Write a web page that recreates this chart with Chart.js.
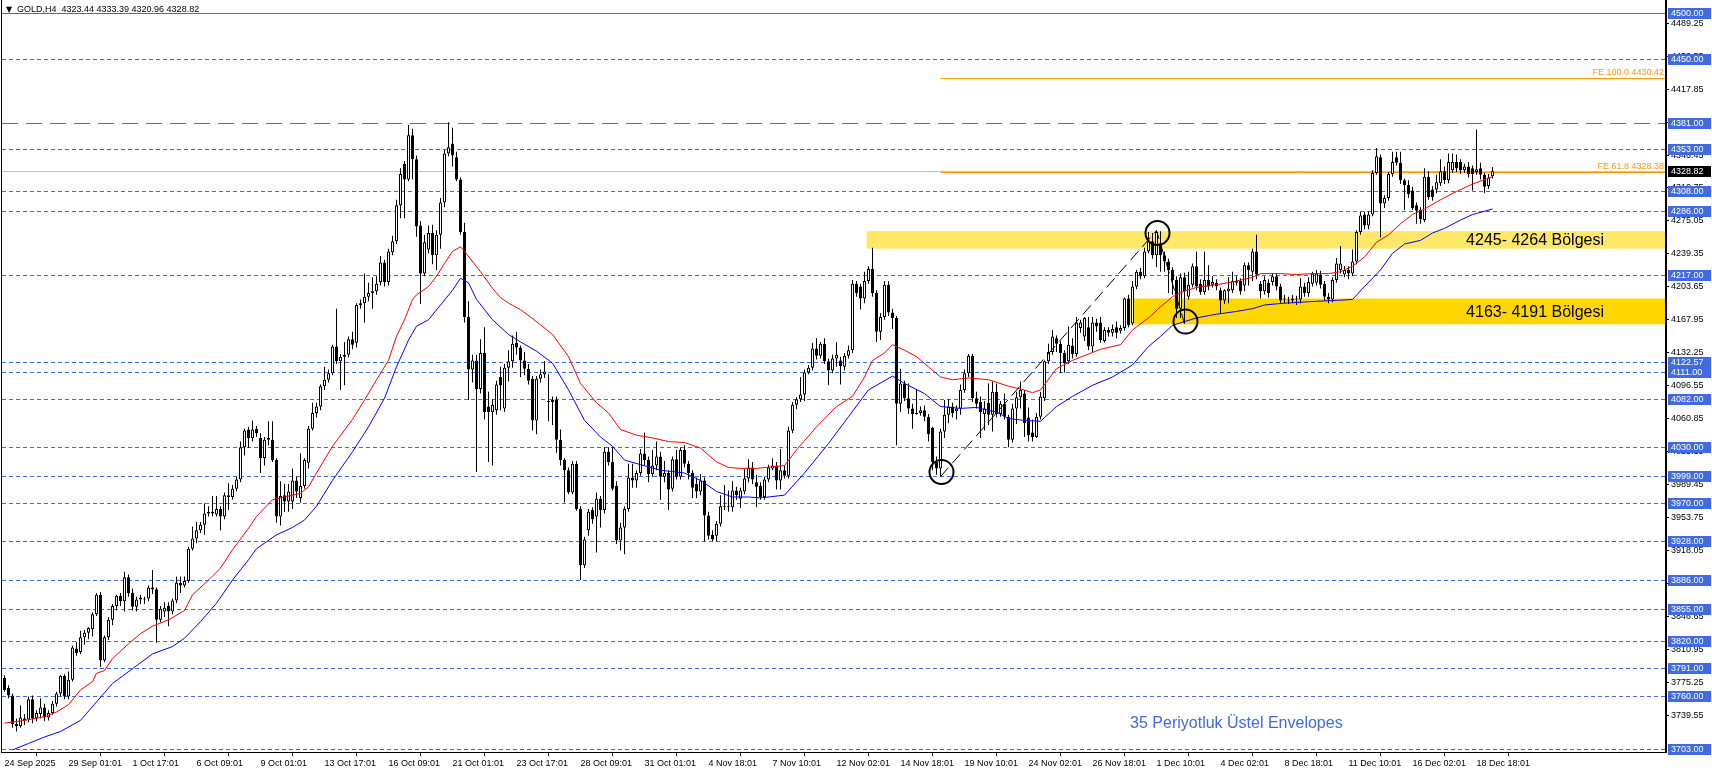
<!DOCTYPE html>
<html>
<head>
<meta charset="utf-8">
<title>GOLD,H4</title>
<script src="https://cdn.jsdelivr.net/npm/chart.js@4.4.1/dist/chart.umd.min.js"></script>
<style>
  html, body { margin: 0; padding: 0; background: #fff; }
  #wrap { width: 1712px; height: 773px; }
</style>
</head>
<body>
<div id="wrap"><canvas id="goldChart" width="1712" height="773"></canvas></div>
<script>
// 1. Данные графика (GOLD, H4)
const title = 'GOLD,H4  4323.44 4333.39 4320.96 4328.82';
const lastPrice = 4328.82;

// метки времени: одна подпись на каждые 16 свечей
const dateTicks = ['24 Sep 2025', '29 Sep 01:01', '1 Oct 17:01', '6 Oct 09:01', '9 Oct 01:01', '13 Oct 17:01',
  '16 Oct 09:01', '21 Oct 01:01', '23 Oct 17:01', '28 Oct 09:01', '31 Oct 01:01', '4 Nov 18:01', '7 Nov 10:01',
  '12 Nov 02:01', '14 Nov 18:01', '19 Nov 10:01', '24 Nov 02:01', '26 Nov 18:01', '1 Dec 10:01', '4 Dec 02:01',
  '8 Dec 18:01', '11 Dec 10:01', '16 Dec 02:01', '18 Dec 18:01'];
const barsPerLabel = 16;

const yTicks = [4489.25, 4453.55, 4417.85, 4382.15, 4346.45, 4310.75, 4275.05, 4239.35, 4203.65, 4167.95, 4132.25,
  4096.55, 4060.85, 4025.15, 3989.45, 3953.75, 3918.05, 3882.35, 3846.65, 3810.95, 3775.25, 3739.55];

// свечи: [open, high, low, close]
const ohlc = [
  [3780,3783,3765,3767],[3769,3772,3758,3761],[3761,3763,3726,3730],[3730,3736,3722,3728],[3728,3750,3726,3737],
  [3736,3741,3729,3734],[3735,3760,3732,3757],[3757,3761,3731,3736],[3736,3745,3733,3742],[3741,3758,3736,3748],
  [3748,3752,3733,3737],[3737,3745,3734,3742],[3742,3755,3740,3752],[3752,3765,3749,3763],[3763,3783,3760,3782],
  [3782,3784,3757,3760],[3760,3787,3757,3778],[3778,3815,3776,3813],[3812,3819,3804,3807],[3808,3831,3806,3824],
  [3824,3832,3816,3829],[3829,3835,3822,3834],[3833,3851,3825,3849],[3849,3872,3847,3870],[3870,3873,3792,3799],
  [3799,3826,3797,3824],[3824,3846,3821,3843],[3843,3860,3837,3858],[3858,3870,3853,3869],[3869,3872,3858,3863],
  [3863,3895,3852,3889],[3889,3892,3868,3872],[3872,3877,3853,3857],[3857,3868,3852,3865],[3867,3870,3860,3865],
  [3865,3868,3860,3866],[3866,3880,3863,3878],[3878,3897,3871,3876],[3876,3878,3818,3843],[3843,3858,3840,3855],
  [3852,3862,3846,3856],[3858,3862,3836,3852],[3852,3866,3849,3864],[3864,3890,3861,3883],[3883,3890,3872,3880],
  [3880,3890,3878,3885],[3885,3922,3883,3920],[3920,3944,3918,3931],[3931,3949,3926,3940],[3940,3949,3937,3946],
  [3946,3969,3935,3958],[3958,3966,3955,3960],[3960,3977,3955,3958],[3957,3977,3955,3963],[3963,3966,3940,3955],
  [3955,3981,3952,3978],[3978,3991,3962,3976],[3976,3989,3973,3985],[3985,3998,3982,3995],[3995,4036,3992,4030],
  [4030,4050,4021,4048],[4049,4052,4029,4040],[4040,4059,4036,4049],[4050,4053,4041,4045],[4040,4045,4002,4018],
  [4018,4041,4010,4038],[4038,4058,4032,4040],[4038,4058,4014,4016],[4016,4018,3948,3955],[3955,3993,3945,3977],
  [3978,3990,3960,3971],[3971,3990,3960,3982],[3971,4007,3963,3994],[3994,3998,3975,3982],[3975,4023,3970,3988],
  [3988,4018,3985,4016],[4013,4053,4007,4050],[4050,4078,4048,4067],[4067,4078,4062,4074],[4074,4098,4070,4096],
  [4096,4117,4092,4103],[4103,4114,4100,4110],[4110,4141,4108,4139],[4139,4180,4120,4123],[4123,4131,4092,4128],
  [4128,4144,4097,4130],[4130,4150,4127,4147],[4147,4155,4136,4141],[4143,4186,4138,4184],[4184,4190,4180,4186],
  [4186,4218,4165,4193],[4193,4208,4188,4197],[4197,4214,4180,4199],[4199,4215,4195,4207],[4209,4237,4205,4230],
  [4230,4233,4204,4209],[4209,4245,4205,4242],[4241,4259,4238,4253],[4253,4298,4250,4292],[4292,4332,4278,4326],
  [4337,4340,4278,4320],[4320,4379,4318,4368],[4368,4375,4320,4342],[4342,4346,4258,4269],[4270,4275,4185,4218],
  [4218,4260,4215,4252],[4244,4270,4240,4262],[4262,4271,4228,4238],[4238,4265,4222,4260],[4260,4300,4245,4295],
  [4295,4352,4290,4348],[4348,4382,4345,4355],[4359,4376,4334,4346],[4344,4350,4318,4320],[4320,4322,4260,4263],
  [4263,4273,4165,4171],[4171,4188,4081,4114],[4114,4130,4100,4124],[4124,4130,4003,4093],[4093,4147,4088,4132],
  [4132,4160,4060,4068],[4074,4090,4014,4068],[4068,4082,4010,4076],[4070,4102,4065,4098],[4106,4117,4070,4097],
  [4072,4120,4068,4116],[4116,4135,4101,4123],[4123,4151,4116,4142],[4143,4155,4130,4138],[4138,4140,4106,4124],
  [4124,4133,4108,4115],[4115,4120,4098,4102],[4104,4107,4048,4059],[4059,4107,4044,4104],[4104,4114,4100,4109],
  [4109,4123,4105,4112],[4080,4109,4058,4079],[4079,4085,4054,4081],[4081,4085,4024,4038],[4038,4049,4010,4016],
  [4016,4018,3970,4005],[4005,4008,3979,3981],[3981,4015,3979,4012],[4012,4015,3961,3963],[3963,3966,3886,3902],
  [3902,3933,3899,3930],[3940,3963,3934,3960],[3962,3965,3947,3952],[3955,3981,3916,3974],[3974,3977,3943,3962],
  [3962,4030,3958,4025],[4025,4030,4010,4014],[4014,4030,3983,3985],[3988,3993,3925,3929],[3929,3948,3918,3943],
  [3943,3966,3914,3963],[3963,4012,3960,3997],[3997,4012,3986,3994],[3994,4005,3986,4002],[4002,4028,3999,4023],
  [4023,4046,4010,4016],[4016,4020,3992,4001],[4001,4027,3998,4010],[4010,4036,4005,4020],[4020,4025,3973,3998],
  [3998,4015,3992,4002],[4002,4005,3962,3984],[3985,4020,3982,4017],[4017,4027,3995,3998],[3998,4030,3995,4027],
  [4027,4032,4008,4012],[4012,4015,3995,4002],[4002,4005,3975,3986],[3990,3997,3975,3982],[3982,4001,3978,3994],
  [3994,3997,3928,3956],[3956,3960,3930,3934],[3935,3940,3928,3930],[3934,3950,3928,3947],[3947,3978,3944,3966],
  [3965,3989,3962,3966],[3966,3983,3960,3965],[3965,3993,3960,3983],[3983,3987,3973,3978],[3974,3986,3964,3983],
  [3982,4006,3979,3996],[3996,4017,3992,4008],[4008,4014,3990,3995],[3992,4000,3965,3987],[3988,3992,3973,3976],
  [3976,3998,3973,3995],[3995,4011,3992,4008],[4007,4018,4005,4010],[4010,4014,3984,3994],[3994,4028,3984,4005],
  [4005,4010,3996,3999],[3999,4052,3996,4048],[4048,4079,4045,4076],[4076,4084,4071,4082],[4082,4106,4079,4087],
  [4087,4114,4080,4111],[4111,4119,4109,4116],[4116,4143,4113,4137],[4137,4148,4125,4129],[4129,4144,4126,4142],
  [4142,4148,4120,4123],[4123,4126,4097,4113],[4113,4130,4110,4126],[4126,4144,4117,4130],[4124,4128,4098,4118],
  [4117,4132,4113,4129],[4129,4140,4126,4135],[4135,4211,4132,4207],[4207,4210,4193,4197],[4204,4207,4179,4191],
  [4191,4220,4186,4210],[4210,4226,4207,4223],[4223,4246,4193,4197],[4197,4200,4144,4155],[4155,4175,4146,4171],
  [4171,4210,4168,4206],[4206,4210,4172,4176],[4176,4180,4158,4170],[4170,4172,4032,4077],[4077,4115,4068,4099],
  [4099,4102,4080,4083],[4083,4099,4066,4072],[4072,4077,4050,4066],[4066,4092,4065,4067],[4067,4074,4064,4070],
  [4070,4075,4058,4063],[4063,4066,4036,4044],[4051,4052,4005,4014],[4014,4020,4000,4007],[4007,4050,3998,4047],
  [4047,4081,4040,4065],[4065,4082,4056,4074],[4074,4078,4062,4067],[4069,4075,4060,4072],[4072,4098,4065,4092],
  [4092,4114,4089,4110],[4110,4131,4106,4129],[4129,4131,4079,4083],[4083,4090,4072,4077],[4079,4085,4040,4068],
  [4066,4080,4048,4072],[4078,4099,4054,4065],[4065,4101,4047,4090],[4090,4099,4062,4066],[4066,4080,4063,4077],
  [4077,4088,4060,4063],[4063,4065,4030,4038],[4038,4077,4035,4072],[4072,4090,4055,4084],[4084,4101,4072,4092],
  [4088,4092,4041,4056],[4062,4073,4036,4043],[4046,4060,4036,4041],[4041,4067,4040,4063],[4063,4090,4060,4085],
  [4083,4124,4080,4123],[4123,4142,4120,4133],[4133,4157,4130,4150],[4148,4151,4133,4142],[4142,4145,4110,4132],
  [4132,4135,4111,4121],[4123,4161,4120,4141],[4140,4148,4126,4131],[4131,4171,4128,4165],[4159,4168,4154,4165],
  [4150,4171,4145,4170],[4160,4171,4135,4139],[4139,4171,4133,4165],[4165,4169,4155,4161],[4165,4171,4143,4146],
  [4145,4160,4143,4157],[4157,4160,4150,4154],[4154,4163,4150,4158],[4160,4166,4148,4154],[4156,4162,4153,4159],
  [4159,4192,4156,4191],[4191,4195,4160,4162],[4164,4210,4162,4204],[4204,4222,4201,4220],[4220,4224,4212,4215],
  [4215,4246,4213,4242],[4242,4263,4240,4253],[4253,4262,4234,4238],[4238,4264.6,4225,4263],[4251,4264,4220,4238],
  [4238,4242,4220,4231],[4231,4234,4197,4222],[4222,4225,4195,4211],[4211,4215,4170,4180],[4180,4218,4170,4214],
  [4214,4219,4163.8,4199],[4193,4220,4190,4206],[4206,4229,4203,4226],[4226,4242,4200,4204],[4207,4212,4195,4198],
  [4198,4242,4195,4211],[4211,4227,4200,4204],[4206,4215,4203,4209],[4208,4212,4200,4204],[4200,4203,4175,4189],
  [4189,4201,4185,4200],[4199,4214,4186,4202],[4200,4220,4197,4210],[4208,4215,4205,4210],[4210,4213,4195,4199],
  [4205,4230,4199,4227],[4227,4230,4205,4222],[4220,4245,4210,4242],[4242,4260,4212,4217],[4207,4210,4191,4199],
  [4199,4215,4195,4211],[4208,4212,4192,4197],[4209,4218,4205,4215],[4215,4218,4200,4204],[4204,4207,4186,4189],
  [4190,4195,4186,4191],[4190,4193,4185,4189],[4189,4195,4186,4191],[4191,4194,4184,4190],[4190,4213,4186,4204],
  [4204,4208,4193,4197],[4197,4214,4193,4209],[4207,4220,4204,4218],[4208,4222,4205,4218],[4217,4221,4202,4206],
  [4207,4210,4189,4193],[4193,4197,4186,4190],[4190,4214,4187,4211],[4211,4235,4208,4229],[4222,4248,4218,4229],
  [4217,4226,4214,4222],[4222,4226,4212,4218],[4218,4244,4215,4231],[4231,4265,4228,4263],[4263,4285,4260,4281],
  [4282,4285,4266,4270],[4270,4285,4266,4282],[4282,4330,4280,4327],[4327,4354,4325,4345],[4344,4347,4257,4294],
  [4294,4303,4289,4300],[4300,4328,4297,4326],[4326,4350,4323,4339],[4344,4350,4335,4338],[4338,4350,4315,4319],
  [4319,4321,4287,4314],[4314,4319,4300,4304],[4308,4312,4287,4289],[4292,4295,4272,4286],[4287,4290,4272,4277],
  [4276,4332,4274,4323],[4323,4329,4298,4301],[4309,4313,4297,4301],[4309,4325,4305,4317],[4316,4342,4313,4329],
  [4329,4334,4315,4319],[4319,4348,4316,4339],[4330,4348,4327,4339],[4339,4347,4328,4332],[4339,4342,4326,4330],
  [4330,4337,4327,4334],[4334,4339,4322,4326],[4332,4335,4308,4326],[4328,4374,4325,4331],[4332,4338,4320,4325],
  [4325,4327,4305,4312],[4313,4326,4310,4322],[4323.44,4333.39,4320.96,4328.82]
];

// 35-периодные экспоненциальные конверты, точки [бар, цена]
const upperEnv = [[0,3731],[5,3734],[10,3738],[13,3743],[16,3751],[19,3767],[22,3776],[23,3785],[25,3788],[27,3801],
  [31,3817],[34,3828],[37,3836],[41,3843],[45,3853],[47,3870],[51,3886],[54,3899],[57,3919],[61,3942],[63,3955],
  [67,3973],[70,3976],[74,3980],[76,3987],[78,4002],[82,4031],[87,4060],[90,4081],[93,4103],[96,4124],[98,4150],
  [100,4168],[102,4190],[103,4195],[106,4204],[108,4215],[110,4229],[112,4242],[114,4247],[115,4242],[119,4220],
  [122,4202],[124,4192],[126,4186],[129,4179],[133,4166],[137,4152],[141,4128],[144,4099],[148,4078],[151,4067],
  [154,4049],[158,4043],[162,4040],[166,4036],[170,4035],[174,4029],[178,4014],[181,4008],[184,4007],[188,4007],
  [195,4010],[198,4027],[203,4052],[208,4074],[212,4085],[215,4106],[217,4124],[220,4132],[222,4141],[225,4135],
  [228,4128],[231,4117],[234,4106],[237,4103],[241,4105],[246,4103],[251,4096],[254,4093],[257,4089],[259,4092],
  [263,4115],[267,4124],[274,4136],[279,4141],[282,4157],[286,4170],[289,4182],[292,4193],[295,4199],[298,4203],
  [303,4206],[307,4209],[312,4214],[314,4218],[319,4218],[323,4217],[327,4218],[331,4218],[334,4220],[337,4226],
  [340,4236],[343,4252],[346,4260],[349,4272],[352,4282],[355,4288],[359,4298],[363,4307],[367,4315],[372,4323]];
const lowerEnv = [[2,3702],[6,3709],[10,3716],[14,3722],[19,3734],[23,3754],[27,3774],[32,3790],[37,3806],[42,3814],
  [45,3823],[49,3841],[53,3861],[57,3886],[61,3908],[63,3920],[68,3935],[72,3943],[75,3951],[78,3966],[82,3994],
  [87,4025],[91,4052],[95,4083],[98,4117],[101,4146],[103,4161],[106,4168],[109,4184],[112,4200],[114,4213],
  [116,4208],[118,4190],[122,4168],[126,4152],[129,4144],[133,4134],[137,4121],[141,4092],[145,4059],[149,4041],
  [152,4031],[155,4016],[159,4011],[164,4005],[170,4002],[174,3994],[178,3982],[182,3976],[186,3976],[189,3975],
  [195,3978],[200,4002],[206,4034],[211,4063],[216,4092],[222,4107],[225,4099],[230,4088],[234,4074],[239,4072],
  [243,4073],[248,4068],[251,4061],[255,4059],[259,4058],[263,4074],[267,4085],[272,4097],[277,4106],[282,4119],
  [286,4139],[289,4150],[292,4162],[295,4166],[298,4170],[303,4174],[308,4177],[312,4180],[315,4184],[320,4186],
  [328,4188],[333,4189],[337,4190],[340,4204],[344,4222],[347,4240],[350,4250],[354,4254],[357,4262],[360,4267],
  [364,4276],[367,4282],[372,4288]];

// горизонтальные уровни
const solidLevels = [4500];
const dashLevels = [4381];
const dotLevels = [4450, 4353, 4308, 4286, 4217, 4122.57, 4111, 4082, 4030, 3999, 3970, 3928, 3886, 3855, 3820,
  3791, 3760, 3703];

// зоны: [от, до, начальный бар]
const zoneLow = [4245, 4163];
const zoneHigh = [4264, 4191];
const zoneStart = [215.5, 281.5];
const zoneText = ['4245- 4264 Bölgesi', '4163- 4191 Bölgesi'];
const zoneColors = ['#ffe768', '#ffd700'];

// расширение Фибоначчи: точки A-B-C [бар, цена]
const feBars = [234, 288, 295];
const fePrices = [3998, 4264.6, 4163.8];
const feLevels = [100.0, 61.8];
const feValues = [4430.42, 4328.38];
const circleBars = [288.25, 295.25, 234.25];
const circlePrices = [4262, 4166, 4003];

const envText = '35 Periyotluk Üstel Envelopes';

// 2. Подготовка данных для Chart.js
const bodies = ohlc.map((c, i) => ({ x: i, y: c[0] === c[3] ? [c[0], c[3] + 0.6] : [c[0], c[3]] }));
const wicks = ohlc.map((c, i) => ({ x: i, y: [c[2], c[1]] }));
const bodyColors = ohlc.map(c => c[3] >= c[0] ? '#ffffff' : '#000000');

const BLUE = '#4169e1';
const ORANGE = '#ff9900';
const AXIS_FONT = '9px "Liberation Sans", Arial, sans-serif';

function hline(ctx, x0, x1, py, color, dash) {
  const yy = Math.round(py) + 0.5;
  ctx.strokeStyle = color;
  ctx.lineWidth = 1;
  ctx.setLineDash(dash);
  ctx.beginPath(); ctx.moveTo(x0, yy); ctx.lineTo(x1, yy); ctx.stroke();
  ctx.setLineDash([]);
}

// 3. Плагин: зоны, уровни, подписи
const overlays = {
  id: 'overlays',
  beforeDatasetsDraw(chart) {
    const { ctx, chartArea: a, scales: { x, y } } = chart;
    ctx.save();
    ctx.beginPath(); ctx.rect(a.left, a.top, a.right - a.left, a.bottom - a.top); ctx.clip();
    zoneLow.forEach((lo, k) => {
      const x0 = x.getPixelForValue(zoneStart[k]);
      const y0 = y.getPixelForValue(zoneHigh[k]);
      const y1 = y.getPixelForValue(lo);
      ctx.fillStyle = zoneColors[k];
      ctx.fillRect(x0, y0, a.right - x0, y1 - y0);
    });
    hline(ctx, a.left, a.right, y.getPixelForValue(lastPrice), '#c0c0c0', []);
    solidLevels.forEach(v => hline(ctx, a.left, a.right, y.getPixelForValue(v), BLUE, []));
    dashLevels.forEach(v => hline(ctx, a.left, a.right, y.getPixelForValue(v), BLUE, [16, 8]));
    dotLevels.forEach(v => hline(ctx, a.left, a.right, y.getPixelForValue(v), BLUE, [4, 3]));
    const feX = x.getPixelForValue(feBars[0]);
    feValues.forEach(v => hline(ctx, feX, a.right, y.getPixelForValue(v), ORANGE, []));
    ctx.restore();
  },
  afterDatasetsDraw(chart) {
    const { ctx, chartArea: a, scales: { x, y } } = chart;
    ctx.save();
    ctx.beginPath(); ctx.rect(a.left, a.top, a.right - a.left, a.bottom - a.top); ctx.clip();
    // линии A-B-C
    ctx.strokeStyle = '#000'; ctx.lineWidth = 1; ctx.setLineDash([12, 6]);
    ctx.beginPath();
    feBars.forEach((b, k) => {
      const px = x.getPixelForValue(b), py = y.getPixelForValue(fePrices[k]);
      if (k === 0) ctx.moveTo(px, py); else ctx.lineTo(px, py);
    });
    ctx.stroke(); ctx.setLineDash([]);
    // подписи FE
    ctx.font = AXIS_FONT; ctx.fillStyle = ORANGE; ctx.textAlign = 'right'; ctx.textBaseline = 'bottom';
    feValues.forEach((v, k) => {
      ctx.fillText('FE ' + feLevels[k].toFixed(1) + ' ' + v.toFixed(2), a.right - 2, Math.round(y.getPixelForValue(v)) - 1);
    });
    // круги
    ctx.lineWidth = 2; ctx.strokeStyle = '#000';
    circleBars.forEach((b, k) => {
      ctx.beginPath();
      ctx.arc(x.getPixelForValue(b), y.getPixelForValue(circlePrices[k]), 12, 0, Math.PI * 2);
      ctx.stroke();
    });
    // подписи зон
    ctx.font = '16px "Liberation Sans", Arial, sans-serif';
    ctx.fillStyle = '#000'; ctx.textAlign = 'left'; ctx.textBaseline = 'middle';
    zoneText.forEach((t, k) => {
      ctx.fillText(t, x.getPixelForValue(365.4), y.getPixelForValue((zoneLow[k] + zoneHigh[k]) / 2) + 1);
    });
    ctx.fillStyle = BLUE;
    ctx.fillText(envText, x.getPixelForValue(281.4), y.getPixelForValue(3730));
    ctx.restore();
  },
  afterDraw(chart) {
    const { ctx, chartArea: a, scales: { y } } = chart;
    ctx.save();
    // рамка
    ctx.fillStyle = '#000';
    ctx.fillRect(a.left - 1, 0, 1, a.bottom + 1);
    ctx.fillRect(a.right - 1, 0, 2, a.bottom + 1);
    ctx.fillRect(a.left - 1, a.bottom, a.right - a.left + 2, 1);
    // ценовые метки уровней
    ctx.font = AXIS_FONT; ctx.textAlign = 'left'; ctx.textBaseline = 'middle';
    const box = (v, bg) => {
      const py = Math.round(y.getPixelForValue(v));
      ctx.fillStyle = bg;
      ctx.fillRect(a.right + 2, py - 5, chart.width - a.right - 3, 11);
      ctx.fillStyle = '#fff';
      ctx.fillText(v.toFixed(2), a.right + 5, py + 0.5);
    };
    [...solidLevels, ...dashLevels, ...dotLevels].forEach(v => box(v, BLUE));
    box(lastPrice, '#000');
    // заголовок
    ctx.fillStyle = '#000';
    ctx.font = '8px "DejaVu Sans", sans-serif';
    ctx.fillText('\u25BC', 6, 10);
    ctx.font = AXIS_FONT;
    ctx.fillText(title, 17, 10);
    ctx.restore();
  }
};

// 4. Построение графика
const ctx = document.getElementById('goldChart').getContext('2d');
const myChart = new Chart(ctx, {
  type: 'bar',
  data: {
    datasets: [
      { type: 'line', data: upperEnv.map(p => ({ x: p[0], y: p[1] })), borderColor: '#ff0000', borderWidth: 1,
        pointRadius: 0, tension: 0, order: 0 },
      { type: 'line', data: lowerEnv.map(p => ({ x: p[0], y: p[1] })), borderColor: '#0000ff', borderWidth: 1,
        pointRadius: 0, tension: 0, order: 0 },
      { type: 'bar', data: bodies, backgroundColor: bodyColors, borderColor: '#000', borderWidth: 1,
        borderSkipped: false, barThickness: 3, grouped: false, inflateAmount: 0, order: 1 },
      { type: 'bar', data: wicks, backgroundColor: '#000', borderWidth: 0, barThickness: 1, grouped: false,
        inflateAmount: 0, order: 2 }
    ]
  },
  options: {
    responsive: false, animation: false, devicePixelRatio: 1,
    layout: { padding: { left: 2, top: 0, right: 0, bottom: 0 } },
    plugins: { legend: { display: false }, tooltip: { enabled: false } },
    scales: {
      x: {
        type: 'linear', min: -0.625, max: 415.375, bounds: 'data', offset: false,
        afterBuildTicks: s => { s.ticks = dateTicks.map((_, k) => ({ value: k * barsPerLabel })); },
        afterFit: s => { s.height = 21; s.paddingLeft = 0; s.paddingRight = 0; },
        ticks: { autoSkip: false, maxRotation: 0, align: 'start', padding: 2, color: '#000', font: { family: '"Liberation Sans", Arial', size: 9 },
          callback: (v, idx) => dateTicks[idx] },
        grid: { drawOnChartArea: false, drawTicks: true, tickLength: 4, color: '#000' },
        border: { display: false }
      },
      y: {
        type: 'linear', position: 'right', min: 3699.75, max: 4514.4, bounds: 'data',
        afterBuildTicks: s => { s.ticks = yTicks.map(v => ({ value: v })); },
        afterFit: s => { s.width = 46; s.paddingTop = 0; s.paddingBottom = 0; },
        ticks: { padding: 2, color: '#000', font: { family: '"Liberation Sans", Arial', size: 9 },
          callback: v => Number(v).toFixed(2) },
        grid: { drawOnChartArea: false, drawTicks: true, tickLength: 3, color: '#000' },
        border: { display: false }
      }
    }
  },
  plugins: [overlays]
});
</script>
</body>
</html>
